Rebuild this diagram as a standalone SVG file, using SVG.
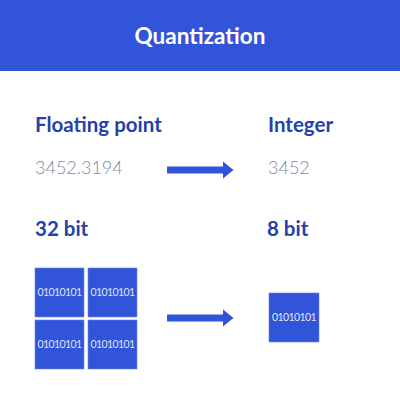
<svg xmlns="http://www.w3.org/2000/svg" width="400" height="400" viewBox="0 0 400 400">
<style>
.title{font-family:Lato,"Liberation Sans",sans-serif;font-weight:bold;font-size:22.5px;fill:#fff}
.head{font-family:Lato,"Liberation Sans",sans-serif;font-weight:bold;font-size:20.5px;fill:#2443a8}
.num{font-family:Lato,"Liberation Sans",sans-serif;font-weight:300;font-size:18px;fill:#7d88a8}
.box{fill:#3154d8;stroke:#6f86e6;stroke-width:0.6}
.bits{font-family:Lato,"Liberation Sans",sans-serif;font-size:10.5px;letter-spacing:-0.6px;fill:#dfe5fb;text-anchor:middle}
.arrow{fill:#3154d8}
</style>
<rect x="0" y="0" width="400" height="400" fill="#fff"/>
<g id="header">
<rect x="0" y="0" width="400" height="71" fill="#3154d8"/>
<text class="title" x="200" y="44" text-anchor="middle">Quantization</text>
</g>
<g id="float">
<text class="head" x="35" y="132">Floating point</text>
<text class="num" x="35" y="174">3452.3194</text>
</g>
<g id="integer">
<text class="head" x="268" y="132">Integer</text>
<text class="num" x="268" y="174">3452</text>
</g>
<g id="bit32">
<text class="head" x="35" y="236">32 bit</text>
<rect class="box" x="35" y="268" width="49" height="49"/>
<text class="bits" x="59.5" y="296">01010101</text>
<rect class="box" x="88" y="268" width="49" height="49"/>
<text class="bits" x="112.5" y="296">01010101</text>
<rect class="box" x="35" y="320" width="49" height="49"/>
<text class="bits" x="59.5" y="348">01010101</text>
<rect class="box" x="88" y="320" width="49" height="49"/>
<text class="bits" x="112.5" y="348">01010101</text>
</g>
<g id="bit8">
<text class="head" x="267" y="236">8 bit</text>
<rect class="box" x="269" y="293" width="50" height="49"/>
<text class="bits" x="294" y="321">01010101</text>
</g>
<g id="connectors">
<path class="arrow" d="M167 166.5 H223 V161.5 L233.5 170 L223 178.5 V173.5 H167 Z"/>
<path class="arrow" d="M167 314.5 H223 V309.5 L233.5 318 L223 326.5 V321.5 H167 Z"/>
</g>
</svg>
